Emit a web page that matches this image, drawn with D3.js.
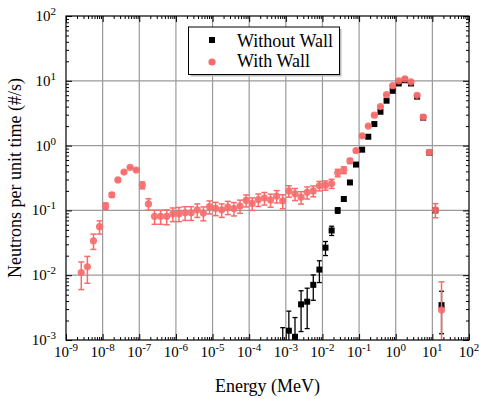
<!DOCTYPE html>
<html>
<head>
<meta charset="utf-8">
<script src="https://cdn.jsdelivr.net/npm/d3@7"></script>
<style>
  body { margin: 0; background: #fff; }
  svg text { font-family: "Liberation Serif", "Times New Roman", serif; fill: #000; }
</style>
</head>
<body>
<div id="chart"></div>
<script>
const width = 479;
const height = 399;
const margin = { top: 16, right: 10, bottom: 59, left: 66 };

// With Wall (energy bin centres in MeV, counts, error)
const withWallEnergy = [
  2.61e-9, 3.83e-9, 5.62e-9, 8.25e-9,
  1.21e-8, 1.78e-8, 2.61e-8, 3.83e-8, 5.62e-8, 8.25e-8,
  1.21e-7, 1.78e-7, 2.61e-7, 3.83e-7, 5.62e-7, 8.25e-7,
  1.21e-6, 1.78e-6, 2.61e-6, 3.83e-6, 5.62e-6, 8.25e-6,
  1.21e-5, 1.78e-5, 2.61e-5, 3.83e-5, 5.62e-5, 8.25e-5,
  1.21e-4, 1.78e-4, 2.61e-4, 3.83e-4, 5.62e-4, 8.25e-4,
  1.21e-3, 1.78e-3, 2.61e-3, 3.83e-3, 5.62e-3, 8.25e-3,
  1.21e-2, 1.78e-2, 2.61e-2, 3.83e-2, 5.62e-2, 8.25e-2,
  1.21e-1, 1.78e-1, 2.61e-1, 3.83e-1, 5.62e-1, 8.25e-1,
  1.21, 1.78, 2.61, 3.83, 5.62, 8.25,
  12.1, 17.8
];
const withWallValue = [
  0.011, 0.0135, 0.034, 0.056,
  0.117, 0.174, 0.295, 0.39, 0.46, 0.42,
  0.245, 0.126, 0.081, 0.081, 0.081, 0.088,
  0.089, 0.092, 0.092, 0.102, 0.091, 0.114,
  0.108, 0.102, 0.112, 0.107, 0.117, 0.143,
  0.128, 0.147, 0.155, 0.145, 0.166, 0.14,
  0.20, 0.18, 0.16, 0.19, 0.20, 0.24,
  0.245, 0.26, 0.38, 0.42, 0.58, 0.84,
  1.41, 2.0, 2.95, 4.0, 6.1, 8.4,
  10.0, 10.7, 9.6, 5.97, 2.76, 0.79,
  0.102, 0.0029
];
const withWallError = [
  0.005, 0.006, 0.009, 0.013,
  0.013, 0.012, 0.012, 0.012, 0.012, 0.014,
  0.03, 0.025, 0.02, 0.02, 0.021, 0.021,
  0.022, 0.022, 0.022, 0.024, 0.022, 0.026,
  0.025, 0.024, 0.026, 0.025, 0.027, 0.03,
  0.028, 0.032, 0.034, 0.033, 0.036, 0.034,
  0.04, 0.038, 0.035, 0.04, 0.038, 0.04,
  0.04, 0.042, 0.05, 0.05, 0.05, 0.05,
  0.05, 0.05, 0.06, 0.08, 0.1, 0.12,
  0.15, 0.15, 0.15, 0.12, 0.09, 0.04,
  0.025, 0.005
];

// Without Wall
const withoutWallEnergy = [
  8.25e-4,
  1.21e-3, 1.78e-3, 2.61e-3, 3.83e-3, 5.62e-3, 8.25e-3,
  1.21e-2, 1.78e-2, 2.61e-2, 3.83e-2, 5.62e-2, 8.25e-2,
  1.21e-1, 1.78e-1, 2.61e-1, 3.83e-1, 5.62e-1, 8.25e-1,
  1.21, 1.78, 2.61, 3.83, 5.62, 8.25,
  12.1, 17.8
];
const withoutWallValue = [
  0.0006,
  0.00139, 0.00112, 0.00355, 0.0039, 0.0071, 0.0122,
  0.0266, 0.049, 0.100, 0.15, 0.27, 0.51,
  0.865, 1.37, 2.15, 3.33, 4.93, 7.0,
  9.1, 10.2, 9.1, 5.7, 2.7, 0.78,
  0.1, 0.00345
];
const withoutWallError = [
  0.00095,
  0.0014, 0.0011, 0.0022, 0.0024, 0.003, 0.0045,
  0.0065, 0.008, 0.01, 0.012, 0.015, 0.02,
  0.03, 0.04, 0.05, 0.06, 0.08, 0.1,
  0.1, 0.1, 0.1, 0.08, 0.05, 0.03,
  0.006, 0.0022
];

const xDecades = [1e-9, 1e-8, 1e-7, 1e-6, 1e-5, 1e-4, 1e-3, 1e-2, 1e-1, 1e0, 1e1, 1e2];
const xExponents = ['-9', '-8', '-7', '-6', '-5', '-4', '-3', '-2', '-1', '0', '1', '2'];
const yDecades = [1e-3, 1e-2, 1e-1, 1e0, 1e1, 1e2];
const yExponents = ['-3', '-2', '-1', '0', '1', '2'];

const pink = '#f86b6b';

const x = d3.scaleLog().domain([1e-9, 1e2]).range([margin.left, width - margin.right]);
const y = d3.scaleLog().domain([1e-3, 1e2]).range([height - margin.bottom, margin.top]);

const x0 = margin.left, x1 = width - margin.right;
const y0 = margin.top, y1 = height - margin.bottom;

function minors(decades) {
  const out = [];
  for (let i = 0; i < decades.length - 1; i++) {
    for (let m = 2; m <= 9; m++) out.push(decades[i] * m);
  }
  return out;
}

const svg = d3.select('#chart')
  .append('svg')
  .attr('width', width)
  .attr('height', height);

svg.append('defs').append('clipPath').attr('id', 'plot-clip')
  .append('rect')
  .attr('x', x0).attr('y', y0)
  .attr('width', x1 - x0).attr('height', y1 - y0);

// grid
const grid = svg.append('g').attr('stroke', '#9a9a9a').attr('stroke-width', 1.2);
grid.selectAll('.gx').data(xDecades.slice(1, -1)).join('line')
  .attr('x1', d => x(d)).attr('x2', d => x(d))
  .attr('y1', y0).attr('y2', y1);
grid.selectAll('.gy').data(yDecades.slice(1, -1)).join('line')
  .attr('x1', x0).attr('x2', x1)
  .attr('y1', d => y(d)).attr('y2', d => y(d));

// axes, ticks inward on all four sides
function addAxis(axisFn, scale, values, size, transform) {
  const g = svg.append('g')
    .attr('transform', transform)
    .call(axisFn(scale).tickValues(values).tickSize(-size).tickFormat(''));
  g.select('.domain').remove();
  g.selectAll('line').attr('stroke', '#000').attr('stroke-width', 1);
  return g;
}

addAxis(d3.axisBottom, x, xDecades, 6, `translate(0,${y1})`);
addAxis(d3.axisBottom, x, minors(xDecades), 3, `translate(0,${y1})`);
addAxis(d3.axisTop, x, xDecades, 6, `translate(0,${y0})`);
addAxis(d3.axisTop, x, minors(xDecades), 3, `translate(0,${y0})`);
addAxis(d3.axisLeft, y, yDecades, 6, `translate(${x0},0)`);
addAxis(d3.axisLeft, y, minors(yDecades), 3, `translate(${x0},0)`);
addAxis(d3.axisRight, y, yDecades, 6, `translate(${x1},0)`);
addAxis(d3.axisRight, y, minors(yDecades), 3, `translate(${x1},0)`);

// tick labels with superscripts
const xLab = svg.append('g').selectAll('text').data(xDecades).join('text')
  .attr('x', d => x(d))
  .attr('y', y1 + 17)
  .attr('text-anchor', 'middle')
  .style('font-size', '15px');
xLab.append('tspan').text('10');
xLab.append('tspan').attr('dy', '-6').style('font-size', '11px').text((d, i) => xExponents[i]);

const yLab = svg.append('g').selectAll('text').data(yDecades).join('text')
  .attr('x', x0 - 10)
  .attr('y', d => y(d) + 5)
  .attr('text-anchor', 'end')
  .style('font-size', '15px');
yLab.append('tspan').text('10');
yLab.append('tspan').attr('dy', '-6').style('font-size', '11px').text((d, i) => yExponents[i]);

// data
const plot = svg.append('g').attr('clip-path', 'url(#plot-clip)');

function series(energy, value, error) {
  return energy.map((e, i) => ({ e, v: value[i], err: error[i] }));
}
const without = series(withoutWallEnergy, withoutWallValue, withoutWallError);
const withW = series(withWallEnergy, withWallValue, withWallError);

const lo = d => y(Math.max(d.v - d.err, 1e-5));
const hi = d => y(d.v + d.err);

function errorBars(data, color, cap, sw) {
  const g = plot.append('g').attr('stroke', color).attr('stroke-width', sw);
  g.selectAll('.v').data(data).join('line')
    .attr('x1', d => x(d.e)).attr('x2', d => x(d.e))
    .attr('y1', lo).attr('y2', hi);
  g.selectAll('.t').data(data).join('line')
    .attr('x1', d => x(d.e) - cap).attr('x2', d => x(d.e) + cap)
    .attr('y1', hi).attr('y2', hi);
  g.selectAll('.b').data(data).join('line')
    .attr('x1', d => x(d.e) - cap).attr('x2', d => x(d.e) + cap)
    .attr('y1', lo).attr('y2', lo);
}

errorBars(without, '#000', 2.5, 1.3);
plot.append('g').selectAll('rect').data(without).join('rect')
  .attr('x', d => x(d.e) - 3)
  .attr('y', d => y(d.v) - 3)
  .attr('width', 6).attr('height', 6)
  .attr('fill', '#000');

errorBars(withW, pink, 3, 1.5);
plot.append('g').attr('opacity', 0.9).selectAll('circle').data(withW).join('circle')
  .attr('cx', d => x(d.e))
  .attr('cy', d => y(d.v))
  .attr('r', 3.6)
  .attr('fill', pink);

// frame
svg.append('rect')
  .attr('x', x0).attr('y', y0)
  .attr('width', x1 - x0).attr('height', y1 - y0)
  .attr('fill', 'none').attr('stroke', '#000').attr('stroke-width', 1.2);

// legend
const lg = svg.append('g');
lg.append('rect')
  .attr('x', 190.5).attr('y', 29)
  .attr('width', 151).attr('height', 47.5)
  .attr('fill', '#bbb');
lg.append('rect')
  .attr('x', 188.5).attr('y', 27)
  .attr('width', 151).attr('height', 47.5)
  .attr('fill', '#fff').attr('stroke', '#000').attr('stroke-width', 1);
lg.append('rect').attr('x', 209).attr('y', 37).attr('width', 6).attr('height', 6).attr('fill', '#000');
lg.append('circle').attr('cx', 212).attr('cy', 62).attr('r', 3.6).attr('fill', pink);
lg.append('text').attr('x', 237).attr('y', 47).style('font-size', '18px').text('Without Wall');
lg.append('text').attr('x', 237).attr('y', 67).style('font-size', '18px').text('With Wall');

// axis titles
svg.append('text')
  .attr('x', (x0 + x1) / 2).attr('y', 392)
  .attr('text-anchor', 'middle')
  .style('font-size', '18px')
  .text('Energy (MeV)');

svg.append('text')
  .attr('transform', `translate(21,${(y0 + y1) / 2}) rotate(-90)`)
  .attr('text-anchor', 'middle')
  .style('font-size', '18px')
  .text('Neutrons per unit time (#/s)');
</script>
</body>
</html>
